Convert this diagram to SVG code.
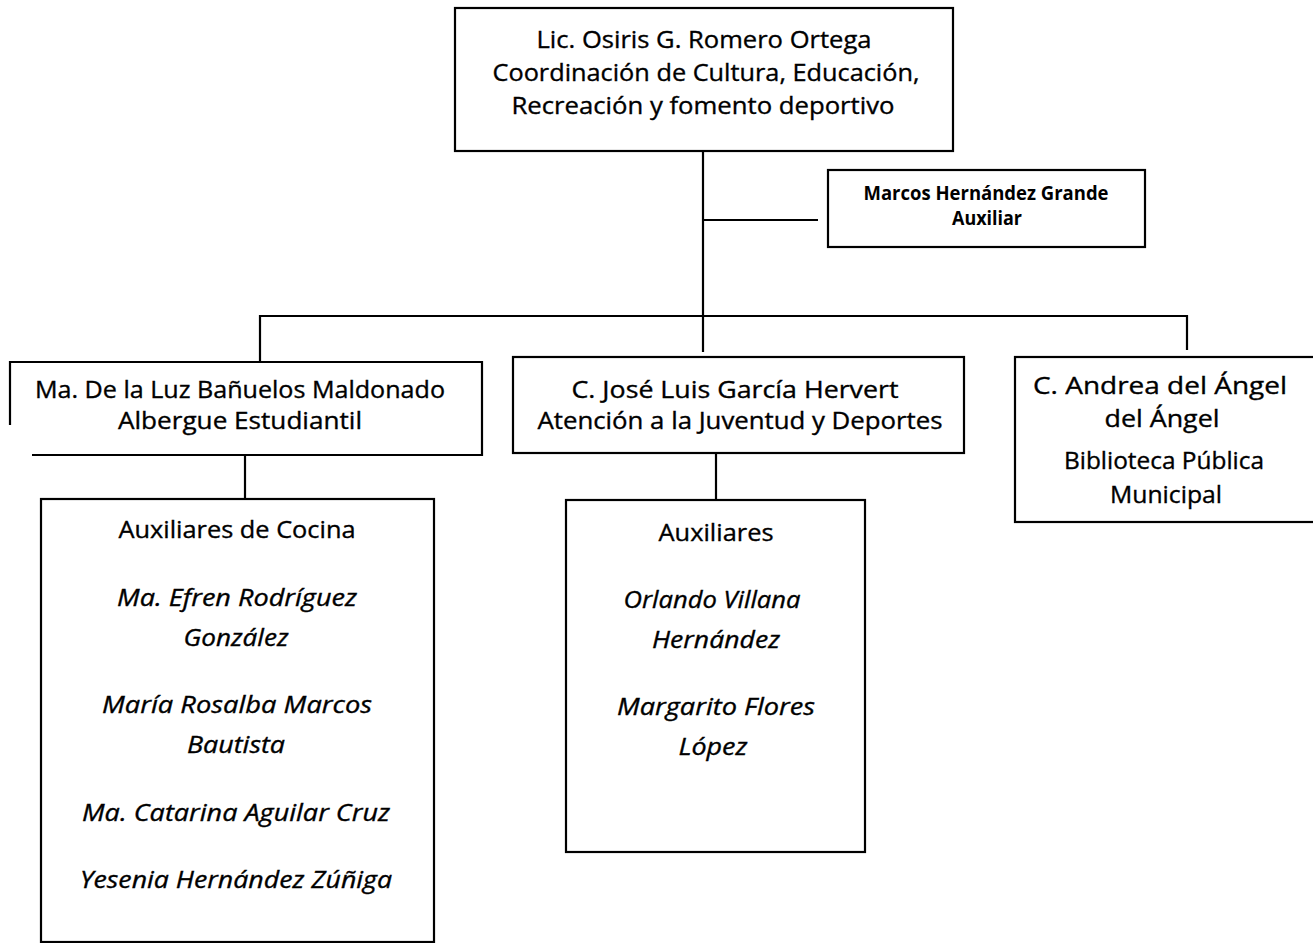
<svg xmlns="http://www.w3.org/2000/svg" width="1313" height="943" viewBox="0 0 1313 943">
<style>
.box{fill:none;stroke:#000;stroke-width:2.2}
.ln{fill:none;stroke:#000;stroke-width:2.2}
text{font-family:"Open Sans","Lato",sans-serif;fill:#000;text-anchor:middle;stroke:#000;stroke-width:0.35}
.t{font-size:24px}
.s{font-size:19px;font-weight:bold;stroke-width:0}
.i{font-size:24px;font-style:italic}
</style>
<rect width="1313" height="943" fill="#fff"/>
<g id="connectors">
<path class="ln" d="M703,151 V352"/>
<path class="ln" d="M703,220 H818"/>
<path class="ln" d="M260,362 V316 H1187 V350"/>
<path class="ln" d="M245,455 V499"/>
<path class="ln" d="M716,453 V500"/>
</g>
<g id="coordinacion">
<rect class="box" x="455" y="8" width="498" height="143"/>
<text class="t" x="704" y="48" textLength="335" lengthAdjust="spacingAndGlyphs">Lic. Osiris G. Romero Ortega</text>
<text class="t" x="706" y="81" textLength="427" lengthAdjust="spacingAndGlyphs">Coordinación de Cultura, Educación,</text>
<text class="t" x="703" y="114" textLength="383" lengthAdjust="spacingAndGlyphs">Recreación y fomento deportivo</text>
</g>
<g id="auxiliar">
<rect class="box" x="828" y="170" width="317" height="77"/>
<text class="s" x="986" y="200" textLength="245" lengthAdjust="spacingAndGlyphs">Marcos Hernández Grande</text>
<text class="s" x="987" y="225" textLength="70" lengthAdjust="spacingAndGlyphs">Auxiliar</text>
</g>
<g id="albergue">
<path class="box" d="M10,425 V362 H482 V455 H32"/>
<text class="t" x="240" y="398" textLength="410" lengthAdjust="spacingAndGlyphs">Ma. De la Luz Bañuelos Maldonado</text>
<text class="t" x="240" y="429" textLength="244" lengthAdjust="spacingAndGlyphs">Albergue Estudiantil</text>
</g>
<g id="cocina">
<rect class="box" x="41" y="499" width="393" height="443"/>
<text class="t" x="237" y="538" textLength="237" lengthAdjust="spacingAndGlyphs">Auxiliares de Cocina</text>
<text class="i" x="237" y="606" textLength="240" lengthAdjust="spacingAndGlyphs">Ma. Efren Rodríguez</text>
<text class="i" x="236" y="646" textLength="105" lengthAdjust="spacingAndGlyphs">González</text>
<text class="i" x="237" y="713" textLength="270" lengthAdjust="spacingAndGlyphs">María Rosalba Marcos</text>
<text class="i" x="236" y="753" textLength="98" lengthAdjust="spacingAndGlyphs">Bautista</text>
<text class="i" x="236" y="821" textLength="308" lengthAdjust="spacingAndGlyphs">Ma. Catarina Aguilar Cruz</text>
<text class="i" x="236" y="888" textLength="312" lengthAdjust="spacingAndGlyphs">Yesenia Hernández Zúñiga</text>
</g>
<g id="juventud">
<rect class="box" x="513" y="357" width="451" height="96"/>
<text class="t" x="735" y="398" textLength="327" lengthAdjust="spacingAndGlyphs">C. José Luis García Hervert</text>
<text class="t" x="740" y="429" textLength="405" lengthAdjust="spacingAndGlyphs">Atención a la Juventud y Deportes</text>
</g>
<g id="auxiliares">
<rect class="box" x="566" y="500" width="299" height="352"/>
<text class="t" x="716" y="541" textLength="115" lengthAdjust="spacingAndGlyphs">Auxiliares</text>
<text class="i" x="712" y="608" textLength="177" lengthAdjust="spacingAndGlyphs">Orlando Villana</text>
<text class="i" x="716" y="648" textLength="128" lengthAdjust="spacingAndGlyphs">Hernández</text>
<text class="i" x="716" y="715" textLength="198" lengthAdjust="spacingAndGlyphs">Margarito Flores</text>
<text class="i" x="713" y="755" textLength="69" lengthAdjust="spacingAndGlyphs">López</text>
</g>
<g id="biblioteca">
<rect class="box" x="1015" y="357" width="310" height="165"/>
<text class="t" x="1160" y="394" textLength="254" lengthAdjust="spacingAndGlyphs">C. Andrea del Ángel</text>
<text class="t" x="1162" y="427" textLength="115" lengthAdjust="spacingAndGlyphs">del Ángel</text>
<text class="t" x="1164" y="469" textLength="200" lengthAdjust="spacingAndGlyphs">Biblioteca Pública</text>
<text class="t" x="1166" y="503" textLength="112" lengthAdjust="spacingAndGlyphs">Municipal</text>
</g>
</svg>
